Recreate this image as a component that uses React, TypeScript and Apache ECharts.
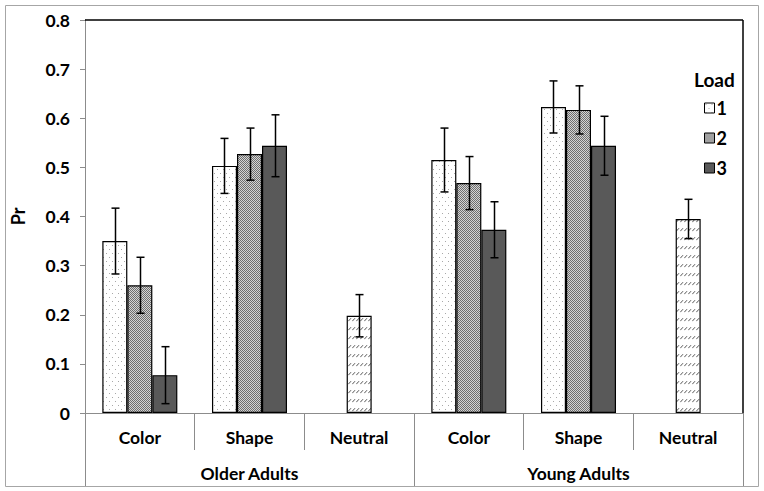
import React, { useEffect, useRef } from 'react';
import * as echarts from 'echarts';

const subCategories = ['Color', 'Shape', 'Neutral', 'Color', 'Shape', 'Neutral'];
const groups = ['Older Adults', 'Young Adults'];
const loadNames = ['1', '2', '3'];

const load1 = [0.35, 0.503, null, 0.515, 0.623, null];
const load1Err = [0.067, 0.056, null, 0.065, 0.053, null];
const load2 = [0.26, 0.527, null, 0.468, 0.617, null];
const load2Err = [0.057, 0.053, null, 0.054, 0.049, null];
const load3 = [0.077, 0.544, null, 0.373, 0.544, null];
const load3Err = [0.058, 0.063, null, 0.057, 0.06, null];
const neutral = [null, null, 0.198, null, null, 0.395];
const neutralErr = [null, null, 0.043, null, null, 0.04];

const GAP = 0.316;
const FONT = 'Lato';

function makeCanvas(w: number, h: number, draw: (ctx: CanvasRenderingContext2D) => void) {
  const c = document.createElement('canvas');
  c.width = w;
  c.height = h;
  const ctx = c.getContext('2d')!;
  draw(ctx);
  return c;
}

export default function App() {
  const ref = useRef<HTMLDivElement>(null);
  useEffect(() => {
    if (!ref.current) return;
    const chart = echarts.init(ref.current, null, { renderer: 'svg' });

    const dots = makeCanvas(6, 8, (ctx) => {
      ctx.fillStyle = '#fff';
      ctx.fillRect(0, 0, 6, 8);
      ctx.fillStyle = '#a8a8a8';
      ctx.fillRect(1, 1, 1, 1);
      ctx.fillRect(4, 5, 1, 1);
    });
    const checker = makeCanvas(2, 2, (ctx) => {
      ctx.fillStyle = '#d4d4d4';
      ctx.fillRect(0, 0, 2, 2);
      ctx.fillStyle = '#6e6e6e';
      ctx.fillRect(0, 0, 1, 1);
      ctx.fillRect(1, 1, 1, 1);
    });
    const hatch = makeCanvas(4, 9, (ctx) => {
      ctx.fillStyle = '#fff';
      ctx.fillRect(0, 0, 4, 9);
      ctx.strokeStyle = '#555';
      ctx.lineWidth = 1;
      ctx.beginPath();
      ctx.moveTo(0.3, 6.2);
      ctx.lineTo(3, 3.2);
      ctx.stroke();
    });
    const pat = (img: HTMLCanvasElement) => ({ image: img, repeat: 'repeat' as const });
    const fills = [pat(dots), pat(checker), '#595959'];

    const loads = [load1, load2, load3];
    const errs = [load1Err, load2Err, load3Err];

    const barSeries = loads.map((vals, si) => ({
      name: loadNames[si],
      type: 'bar',
      xAxisIndex: 0,
      barGap: '0%',
      barCategoryGap: GAP * 100 + '%',
      itemStyle: { color: fills[si], borderColor: '#000', borderWidth: 1.2 },
      data: vals.map((v, i) => {
        if (si === 1 && v == null && neutral[i] != null) {
          return {
            value: neutral[i],
            itemStyle: { color: pat(hatch), borderColor: '#000', borderWidth: 1.2 },
          };
        }
        return v;
      }),
      z: 2,
    }));

    const errData: any[] = [];
    loads.forEach((vals, si) => {
      vals.forEach((v, i) => {
        if (v != null) errData.push([i, v, errs[si][i], si]);
      });
    });
    neutral.forEach((v, i) => {
      if (v != null) errData.push([i, v, neutralErr[i], 1]);
    });

    const errStyle = { stroke: '#000', lineWidth: 1.5 };

    chart.setOption({
      animation: false,
      textStyle: { fontFamily: FONT },
      grid: { left: 85, top: 20, right: 21, bottom: 78, containLabel: false },
      legend: {
        orient: 'vertical',
        left: 699,
        top: 94,
        icon: 'rect',
        itemWidth: 10,
        itemHeight: 10,
        itemGap: 12,
        data: loadNames,
        textStyle: { fontFamily: FONT, fontWeight: 'bold', fontSize: 18, color: '#000', padding: [0, 0, 0, -3] },
        itemStyle: { borderColor: '#000', borderWidth: 1 },
      },
      xAxis: [
        {
          type: 'category',
          data: subCategories,
          position: 'bottom',
          axisLine: { show: true, lineStyle: { color: '#8c8c8c', width: 1 } },
          axisTick: { show: true, interval: 0, length: 37, lineStyle: { color: '#8c8c8c' } },
          axisLabel: { interval: 0, margin: 15, fontFamily: FONT, fontWeight: 'bold', fontSize: 17.5, color: '#000' },
          splitLine: { show: false },
        },
        {
          type: 'category',
          data: groups,
          position: 'bottom',
          offset: 0,
          axisLine: { show: false },
          axisTick: { show: true, interval: 0, length: 73, lineStyle: { color: '#8c8c8c' } },
          axisLabel: { interval: 0, margin: 51, fontFamily: FONT, fontWeight: 'bold', fontSize: 17.5, color: '#000' },
          splitLine: { show: false },
        },
      ],
      yAxis: {
        type: 'value',
        min: 0,
        max: 0.8,
        interval: 0.1,
        name: 'Pr',
        nameLocation: 'middle',
        nameGap: 58,
        nameRotate: 90,
        nameTextStyle: { fontFamily: FONT, fontWeight: 'bold', fontSize: 18, color: '#000' },
        axisLine: { show: true, lineStyle: { color: '#8c8c8c', width: 1 } },
        axisTick: { show: true, length: 5, lineStyle: { color: '#8c8c8c' } },
        axisLabel: {
          margin: 15,
          fontFamily: FONT,
          fontWeight: 'bold',
          fontSize: 17.5,
          color: '#000',
          formatter: (v: number) => (v === 0 ? '0' : v.toFixed(1)),
        },
        splitLine: { show: false },
      },
      graphic: [
        {
          type: 'rect',
          shape: { x: 5.5, y: 5.5, width: 753, height: 481 },
          style: { fill: 'none', stroke: '#a6a6a6', lineWidth: 1 },
          silent: true,
        },
        {
          type: 'line',
          shape: { x1: 85, y1: 20, x2: 743, y2: 20 },
          style: { stroke: '#000', lineWidth: 1.5 },
          z: 10,
        },
        {
          type: 'line',
          shape: { x1: 743, y1: 20, x2: 743, y2: 413 },
          style: { stroke: '#000', lineWidth: 1.5 },
          z: 10,
        },
        {
          type: 'text',
          left: 694,
          top: 70,
          style: { text: 'Load', font: `bold 19px ${FONT}`, fill: '#000' },
        },
      ],
      series: [
        ...barSeries,
        {
          type: 'custom',
          xAxisIndex: 0,
          z: 5,
          encode: { x: 0, y: 1 },
          data: errData,
          renderItem: (params: any, api: any) => {
            const cat = api.value(0);
            const v = api.value(1);
            const e = api.value(2);
            const slot = api.value(3);
            const band = api.size([1, 0])[0];
            const bw = (band * (1 - GAP)) / 3;
            const top = api.coord([cat, v + e]);
            const bot = api.coord([cat, v - e]);
            const x = Math.round(top[0] + (slot - 1) * bw) + 0.5;
            return {
              type: 'group',
              children: [
                { type: 'line', shape: { x1: x, y1: top[1], x2: x, y2: bot[1] }, style: errStyle },
                { type: 'line', shape: { x1: x - 4, y1: top[1], x2: x + 4, y2: top[1] }, style: errStyle },
                { type: 'line', shape: { x1: x - 4, y1: bot[1], x2: x + 4, y2: bot[1] }, style: errStyle },
              ],
            };
          },
        },
      ],
    });

    return () => chart.dispose();
  }, []);

  return (
    <div
      ref={ref}
      style={{ position: 'fixed', left: 0, top: 0, width: 764, height: 491, background: '#fff' }}
    />
  );
}
